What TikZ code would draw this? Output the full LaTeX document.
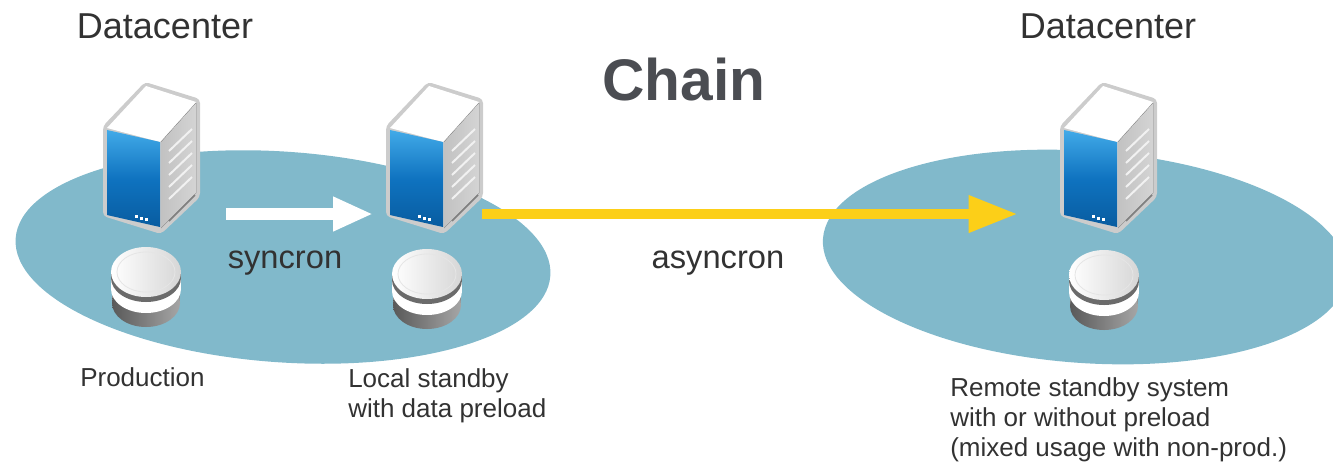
\documentclass[tikz,border=0pt]{standalone}
\usepackage{fontspec}
\setmainfont{Liberation Sans}
\usetikzlibrary{arrows.meta,shapes.geometric}
\definecolor{lake}{RGB}{129,185,203}
\definecolor{amber}{RGB}{252,207,24}
\definecolor{txt}{RGB}{50,50,50}
\definecolor{titlec}{RGB}{75,77,82}
\definecolor{frontA}{RGB}{66,170,232}
\definecolor{frontB}{RGB}{8,92,160}
\definecolor{frontC}{RGB}{15,115,192}
\tikzset{
  lakeshape/.style={ellipse,fill=lake,inner sep=0pt},
  label big/.style={text=txt,font=\fontsize{27}{32}\selectfont,inner sep=0pt},
  label mid/.style={text=txt,font=\fontsize{24.5}{29}\selectfont,inner sep=0pt},
  label small/.style={text=txt,font=\fontsize{19.5}{22.5}\selectfont,inner sep=0pt,align=left},
  pics/serverbox/.style={code={
    \fill[black!20,rounded corners=3pt] (0,-15)--(55,2)--(55,100)--(16,137)--(-42,119)--(-42,29)--cycle;
    \fill[white] (-38,31)--(1,-11)--(51,5)--(15,45)--cycle;
    \fill[left color=black!24,right color=black!17] (16,45)--(51,6)--(51,96)--(16,131)--cycle;
    \foreach \d in {0,12,24,36,48}{\draw[white!70!black!18,line width=1.5pt] (24,{54+\d})--(47,{32+\d});}
    \draw[black!50,line width=1.1pt] (24,124)--(50,98);
    \shade[top color=frontA,bottom color=frontB,middle color=frontC] (-38,33)--(15,45)--(15,130)--(-38,118)--cycle;
    \foreach \q in {0,5,10}{\fill[white] ({\q-10},{118+\q*0.3}) rectangle ++(3.4,3.4);}
  }},
  pics/diskstack/.style={code={
    \fill[black!45] (-34,31) rectangle (34,17);
    \shade[left color=black!65,right color=black!35] (0,31) ellipse[x radius=34,y radius=24];
    \fill[white] (-35,6) rectangle (35,17);
    \fill[white] (0,17) ellipse[x radius=35,y radius=24];
    \fill[black!58] (-35,0) rectangle (35,6);
    \fill[black!58] (0,6) ellipse[x radius=35,y radius=24];
    \shade[left color=white,right color=black!16] (0,0) ellipse[x radius=35,y radius=25];
    \draw[black!10,line width=0.6pt] (0,0) ellipse[x radius=29,y radius=20];
  }}
}
\begin{document}
\begin{tikzpicture}[x=0.75pt,y=-0.75pt]
\useasboundingbox (0,0) rectangle (1333,461);
\begin{scope}
\clip (0,0) rectangle (1333,461);
\node[lakeshape,rotate=-4,minimum width=402pt,minimum height=158pt] (lakeA) at (283,257) {};
\node[lakeshape,rotate=-4,minimum width=394pt,minimum height=159pt] (lakeB) at (1085,257) {};
\end{scope}

\pic at (145,97) {serverbox};
\pic at (428,97) {serverbox};
\pic at (1102,97) {serverbox};
\pic at (146,272) {diskstack};
\pic at (427,274) {diskstack};
\pic at (1104,275) {diskstack};

\coordinate (syncA) at (226,214);
\coordinate (syncB) at (373,214);
\coordinate (asyncA) at (482,214);
\coordinate (asyncB) at (1018,214);
\draw[white,line width=9pt,-{Triangle[length=30pt,width=24pt]}] (syncA) -- (syncB);
\draw[amber,line width=8pt,-{Triangle[length=37pt,width=26pt]}] (asyncA) -- (asyncB);

\node[label big] (dcA) at (165,26) {Datacenter};
\node[label big] (dcB) at (1108,26) {Datacenter};
\node[text=titlec,font=\fontsize{44}{50}\bfseries\selectfont,inner sep=0pt] (title) at (684,80) {Chain};
\node[label mid] (sync) at (285,263) {syncron};
\node[label mid] (async) at (718,263) {asyncron};
\node[label small,anchor=west] (prod) at (80,377) {Production};
\node[label small,anchor=west] (local) at (348,396) {Local standby\\with data preload};
\node[label small,anchor=west] (remote) at (950,420) {Remote standby system\\with or without preload\\(mixed usage with non-prod.)};
\end{tikzpicture}
\end{document}
